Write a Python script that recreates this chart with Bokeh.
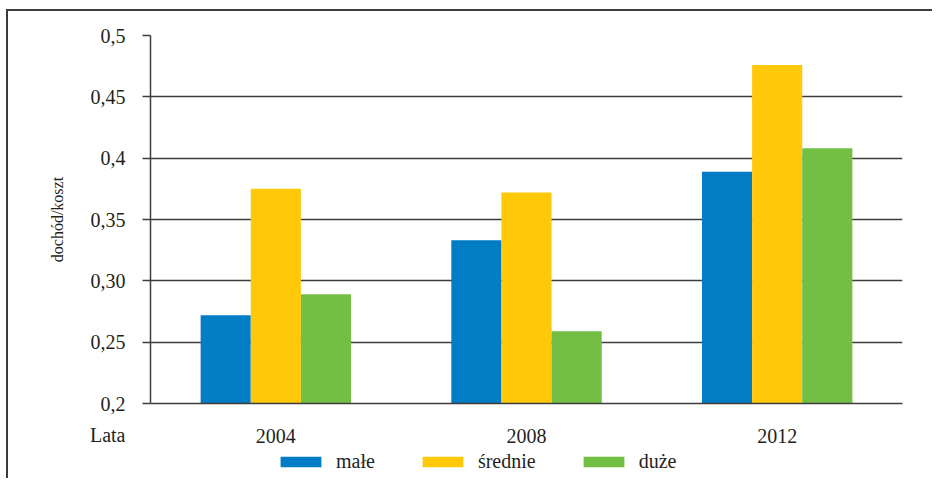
from bokeh.plotting import figure
from bokeh.layouts import column
from bokeh.models import FactorRange, FixedTicker, Legend, LegendItem, Label, ColumnDataSource
from bokeh.transform import dodge
from bokeh.embed import file_html
from bokeh.resources import INLINE

years = ["2004", "2008", "2012"]
male = [0.272, 0.333, 0.389]
srednie = [0.375, 0.372, 0.476]
duze = [0.289, 0.259, 0.408]
series_names = ["małe", "średnie", "duże"]
colors = ["#007dc5", "#ffc90a", "#72bf44"]
y_ticks = [0.2, 0.25, 0.3, 0.35, 0.4, 0.45, 0.5]
y_tick_labels = ["0,2", "0,25", "0,30", "0,35", "0,4", "0,45", "0,5"]
y_title = "dochód/koszt"
x_title = "Lata"

FONT = "Liberation Serif"
TXT = "#231f20"
LINE = "#3c3c3c"
KEYS = ["male", "srednie", "duze"]
OFFS = [-0.2, 0.0, 0.2]

src = ColumnDataSource(dict(years=years, male=male, srednie=srednie, duze=duze))

p = figure(x_range=FactorRange(*years), y_range=(0.2, 0.5),
           width=926, height=439, output_backend="svg", toolbar_location=None,
           min_border_left=142, min_border_right=32, min_border_top=24, min_border_bottom=47)
p.styles = {"border-top": f"2px solid {LINE}", "border-left": f"2px solid {LINE}",
            "margin-top": "9px", "margin-left": "6px"}
p.outline_line_color = None
p.background_fill_color = "white"

for key, off, col in zip(KEYS, OFFS, colors):
    p.vbar(x=dodge("years", off, range=p.x_range), top=key, bottom=0.2, width=0.2,
           source=src, fill_color=col, line_color=None)

p.xgrid.visible = False
p.ygrid.ticker = FixedTicker(ticks=y_ticks)
p.ygrid.grid_line_color = LINE
p.ygrid.grid_line_width = 1.5

yax = p.yaxis[0]
yax.ticker = FixedTicker(ticks=y_ticks)
yax.major_label_overrides = {t: l for t, l in zip(y_ticks, y_tick_labels)}
yax.minor_tick_line_color = None
yax.major_tick_in = 0
yax.major_tick_out = 8
yax.major_tick_line_color = LINE
yax.major_tick_line_width = 1.5
yax.axis_line_color = LINE
yax.axis_line_width = 1.5
yax.major_label_standoff = 17
yax.major_label_text_font = FONT
yax.major_label_text_font_size = "20px"
yax.major_label_text_color = TXT
yax.axis_label = y_title
yax.axis_label_text_font = FONT
yax.axis_label_text_font_size = "16px"
yax.axis_label_text_font_style = "normal"
yax.axis_label_text_color = TXT
yax.axis_label_standoff = 22

xax = p.xaxis[0]
xax.major_tick_line_color = None
xax.minor_tick_line_color = None
xax.axis_line_color = LINE
xax.axis_line_width = 1.5
xax.major_label_standoff = 19
xax.major_label_text_font = FONT
xax.major_label_text_font_size = "20px"
xax.major_label_text_color = TXT

lata = Label(x=0, y=0.2, x_offset=-25, y_offset=-31, text=x_title, text_align="right",
             text_baseline="middle", text_font=FONT, text_font_size="20px", text_color=TXT)
p.add_layout(lata, "left")

# legend strip below the chart (its swatch renderers sit outside its visible range)
lf = figure(width=926, height=30, output_backend="svg", toolbar_location=None,
            x_axis_location=None, y_axis_location=None, min_border=0,
            x_range=FactorRange(*years), y_range=(2, 3))
lf.styles = {"border-left": f"2px solid {LINE}", "margin-left": "6px"}
lf.outline_line_color = None
lf.grid.visible = False
swatches = [lf.vbar(x=dodge("years", off, range=lf.x_range), top=key, bottom=0.2, width=0.2,
                    source=src, fill_color=c, line_color=None)
            for key, off, c in zip(KEYS, OFFS, colors)]

legend = Legend(items=[LegendItem(label=n, renderers=[r]) for n, r in zip(series_names, swatches)],
                orientation="horizontal", location=(125, 5), glyph_width=51, glyph_height=13,
                label_standoff=10, spacing=42, padding=0, margin=0,
                label_text_font=FONT, label_text_font_size="20px", label_text_color=TXT,
                border_line_color=None, background_fill_alpha=0)
lf.add_layout(legend)

layout = column(p, lf, spacing=0)
open("out.html", "w").write(file_html(layout, INLINE))
